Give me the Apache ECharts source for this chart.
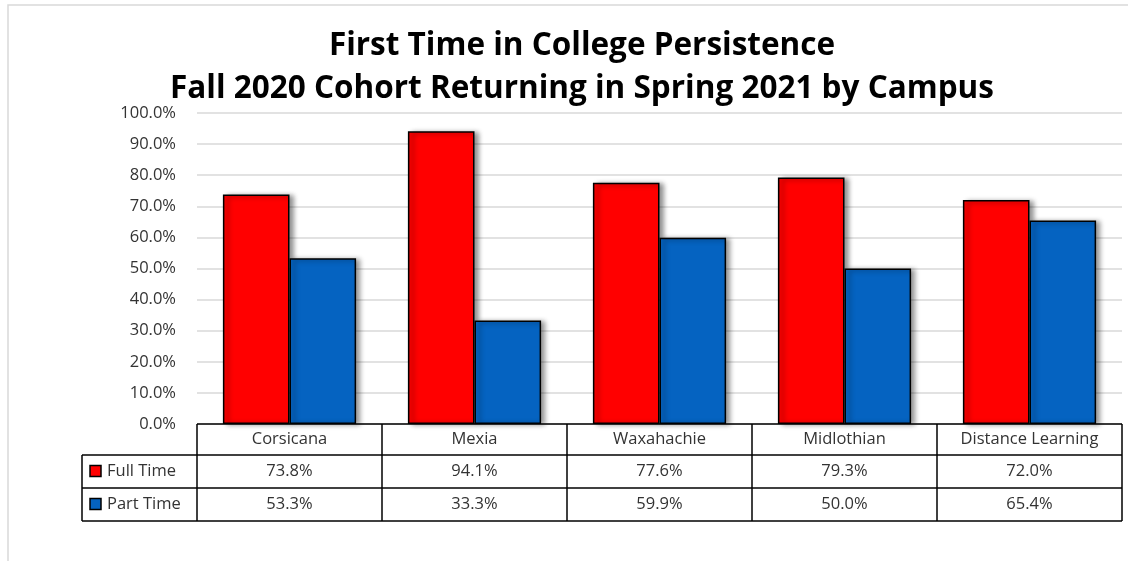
<!DOCTYPE html>
<html><head><meta charset="utf-8">
<script src="https://cdn.jsdelivr.net/npm/echarts@6/dist/echarts.min.js"></script>
<style>html,body{margin:0;padding:0;background:#fff;}#c{width:1128px;height:561px;}</style>
</head><body><div id="c"></div>
<script>
const categories = ['Corsicana', 'Mexia', 'Waxahachie', 'Midlothian', 'Distance Learning'];
const seriesNames = ['Full Time', 'Part Time'];
const fullTime = [73.8, 94.1, 77.6, 79.3, 72.0];
const partTime = [53.3, 33.3, 59.9, 50.0, 65.4];
const titleLines = ['First Time in College Persistence', 'Fall 2020 Cohort Returning in Spring 2021 by Campus'];
const yMin = 0, yMax = 100, yStep = 10;

const colors = ['#FF0000', '#0563C1'];
const FONT = '"Open Sans", Lato, sans-serif';
const TXT = '#333333';
const FS = 16.5;

const chart = echarts.init(document.getElementById('c'), null, {renderer: 'canvas'});
const barStyle = (c) => ({
  color: c, borderColor: '#000', borderWidth: 1.5,
  shadowColor: 'rgba(0,0,0,0.45)', shadowBlur: 5, shadowOffsetX: 4, shadowOffsetY: 1
});
chart.setOption({
  animation: false,
  backgroundColor: '#fff',
  title: {
    text: titleLines.join('\n'), left: 577, textAlign: 'center', top: 20,
    textStyle: {fontFamily: FONT, fontWeight: 'bold', fontSize: 31.5, color: '#000', lineHeight: 43}
  },
  grid: {left: 197, right: 6, top: 113, bottom: 137, containLabel: false},
  xAxis: {
    type: 'category', data: categories,
    axisLine: {show: false}, axisTick: {show: false}, axisLabel: {show: false}, splitLine: {show: false}
  },
  yAxis: {
    type: 'value', min: yMin, max: yMax, interval: yStep,
    axisLine: {show: false}, axisTick: {show: false},
    axisLabel: {formatter: v => v.toFixed(1) + '%', fontFamily: FONT, fontSize: FS, color: TXT, margin: 21},
    splitLine: {lineStyle: {color: '#d9d9d9', width: 1.5}}
  },
  series: [
    {name: seriesNames[0], type: 'bar', data: fullTime, barGap: '0%', barCategoryGap: '28%', itemStyle: barStyle(colors[0])},
    {name: seriesNames[1], type: 'bar', data: partTime, barGap: '0%', barCategoryGap: '28%', itemStyle: barStyle(colors[1])}
  ]
});

// Build data table beneath the plot, positioned from the axes
const centers = categories.map(c => chart.convertToPixel({xAxisIndex: 0}, c));
const band = centers.length > 1 ? centers[1] - centers[0] : 185;
const y0 = chart.convertToPixel({yAxisIndex: 0}, yMin);
const xL = centers[0] - band / 2, xR = centers[centers.length - 1] + band / 2;
const legL = 82;
const rowH = [31, 33, 33];
const rowY = [y0, y0 + rowH[0], y0 + rowH[0] + rowH[1], y0 + rowH[0] + rowH[1] + rowH[2]];
const els = [];
const line = (x1, y1, x2, y2) => els.push({type: 'line', shape: {x1, y1, x2, y2}, style: {stroke: '#000', lineWidth: 1.5}, z: 10});
const text = (x, y, t, align) => els.push({type: 'text', x, y, style: {text: t, fill: TXT, font: FS + 'px ' + FONT, textAlign: align || 'center', textVerticalAlign: 'middle'}, z: 11});

// outer chart border
els.push({type: 'rect', shape: {x: 8, y: 5, width: 1140, height: 560}, style: {fill: null, stroke: '#d9d9d9', lineWidth: 1.5}, z: -1});

// horizontal lines
line(xL, rowY[0], xR, rowY[0]);
line(legL, rowY[1], xR, rowY[1]);
line(legL, rowY[2], xR, rowY[2]);
line(legL, rowY[3], xR, rowY[3]);
// vertical lines
line(legL, rowY[1], legL, rowY[3]);
for (let i = 0; i <= categories.length; i++) {
  const x = xL + i * band;
  line(x, rowY[0], x, rowY[3]);
}
categories.forEach((c, i) => {
  text(centers[i], (rowY[0] + rowY[1]) / 2, c);
  text(centers[i], (rowY[1] + rowY[2]) / 2, fullTime[i].toFixed(1) + '%');
  text(centers[i], (rowY[2] + rowY[3]) / 2, partTime[i].toFixed(1) + '%');
});
seriesNames.forEach((n, k) => {
  const cy = (rowY[k + 1] + rowY[k + 2]) / 2;
  els.push({type: 'rect', shape: {x: 90, y: cy - 6, width: 11, height: 11}, style: {fill: colors[k], stroke: '#000', lineWidth: 1.5}, z: 11});
  text(107, cy, n, 'left');
});
chart.setOption({graphic: {elements: els}});
</script>
</body></html>
